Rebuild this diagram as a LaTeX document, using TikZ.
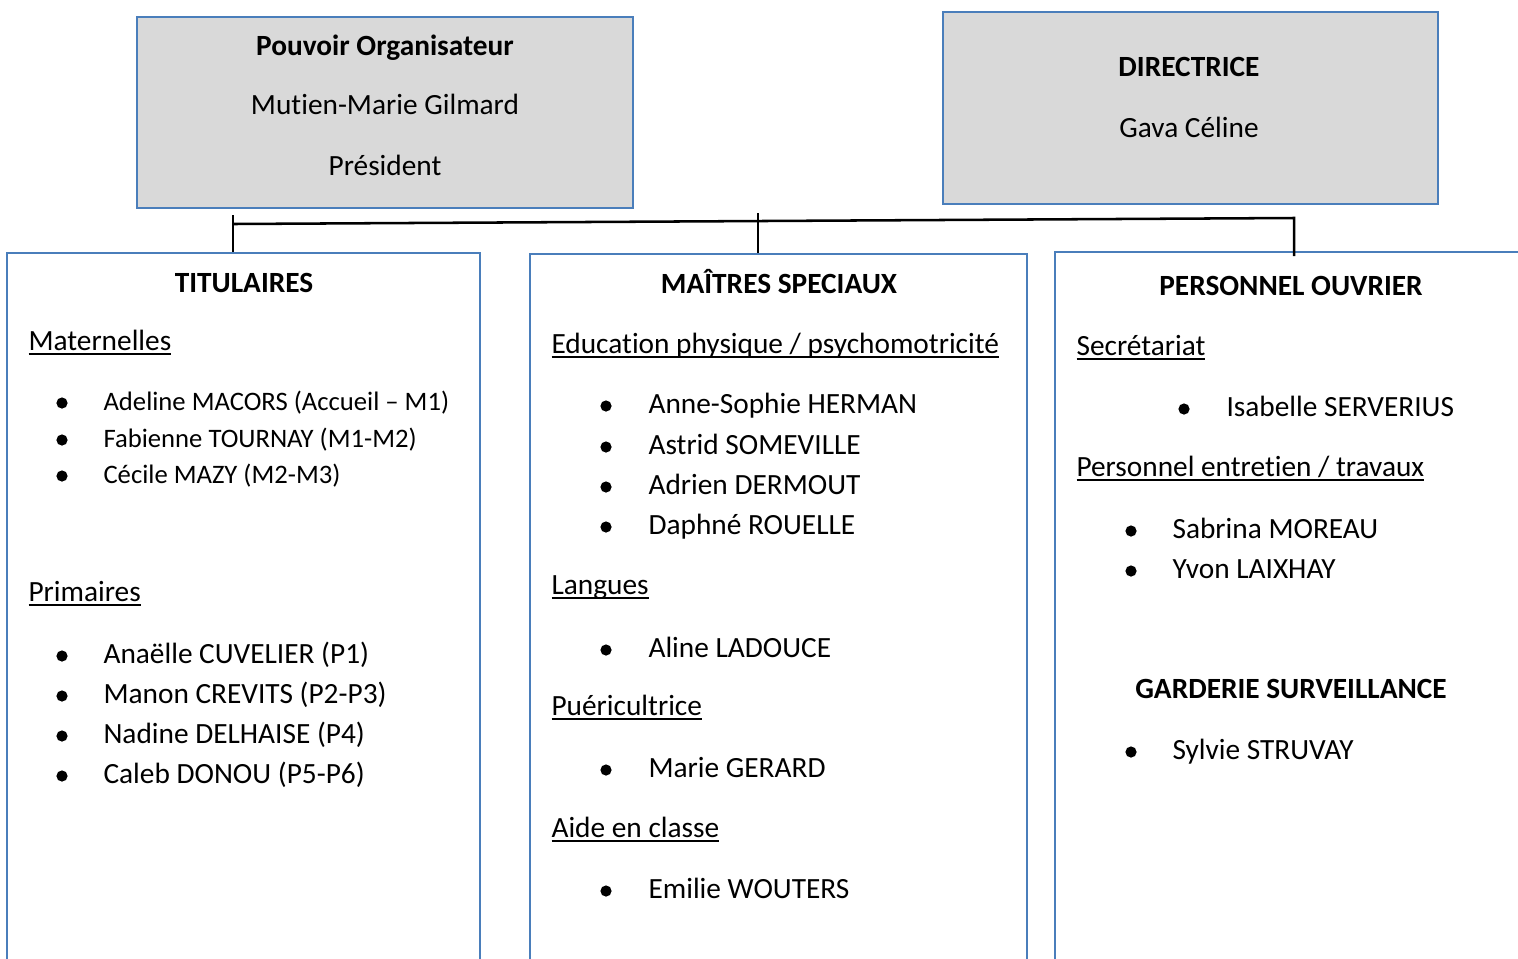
\documentclass[tikz,border=0pt]{standalone}
\usepackage{fontspec}
\setmainfont{Carlito}[Ligatures={NoCommon,NoRequired,NoContextual}, Contextuals={NoAlternate}]
\usetikzlibrary{fit}

\definecolor{boxblue}{HTML}{4A7EBB}
\definecolor{boxgray}{HTML}{D9D9D9}
\newcommand{\ulin}[1]{\setbox0\hbox{#1}\rlap{\rule[-1.9pt]{\wd0}{0.7pt}}\box0}
% break the t-i glyph join of Carlito
\newcommand{\nolig}{\kern0pt\relax}

\tikzset{
  headbox/.style={draw=boxblue, fill=boxgray, line width=1pt, inner sep=0pt},
  colbox/.style={draw=boxblue, line width=1pt, inner sep=0pt},
  link/.style={draw=black, line width=0.95pt},
  title/.style={inner sep=0pt, anchor=base, font=\fontsize{11pt}{13pt}\selectfont\bfseries},
  line/.style={inner sep=0pt, anchor=base, font=\fontsize{11pt}{13pt}\selectfont},
  item/.style={inner sep=0pt, anchor=base west, font=\fontsize{11pt}{13pt}\selectfont},
  smallitem/.style={inner sep=0pt, anchor=base west, font=\fontsize{10pt}{12pt}\selectfont},
  dot/.style={circle, fill=black, inner sep=0pt, minimum size=4.2pt}
}

\begin{document}
\begin{tikzpicture}[x=0.375pt,y=-0.375pt]
  \useasboundingbox (0,0) rectangle (1518,958);
  \clip (0,0) rectangle (1518,958);

  % top boxes
  \node[headbox, fit={(137,17) (633,208)}] (po) {};
  \node[title] (poname) at (385,55) {Pouvoir Organisateur};
  \node[line] (popers) at (385,114) {Mutien-Marie Gilmard};
  \node[line] (porole) at (385,175) {Président};

  \node[headbox, fit={(943,12) (1438,204)}] (dir) {};
  \node[title] (dirname) at (1189,76) {DIRECTRICE};
  \node[line] (dirpers) at (1189,137) {Gava Céline};

  % column boxes
  \node[colbox, fit={(7,253) (480,1000)}] (tit) {};
  \node[colbox, fit={(530,254) (1027,1000)}] (ms) {};
  \node[colbox, fit={(1055,252) (1560,1000)}] (ouv) {};

  % connectors
  \coordinate (busL) at (233,224);
  \coordinate (busR) at (1294,218);
  \coordinate (stubL) at (233,215);
  \coordinate (stubM) at (758,213);
  \draw[link] (busL) -- (busR) -- ([yshift=-2pt]ouv.north -| busR);
  \draw[link] (stubL) -- (tit.north -| stubL);
  \draw[link] (stubM) -- (ms.north -| stubM);

  % titulaires
  \node[title] (tithead) at (244,292) {TITULAIRES};
  \node[item] (mat) at (28,350) {\ulin{Maternelles}};
  \foreach \n/\y/\who in {1/410/{Adeline MACORS (Accueil – M1)},
                          2/447/{Fabienne TOURNAY (M1-M2)},
                          3/483/{Cécile MAZY (M2-M3)}}{
    \node[dot] (matb\n) at (62,\y-7) {};
    \node[smallitem] (mat\n) at (103,\y) {\who};
  }
  \node[item] (prim) at (28,601) {\ulin{Primaires}};
  \foreach \n/\y/\who in {1/663/{Anaëlle CUVELIER (P1)},
                          2/703/{Manon CREVITS (P2-P3)},
                          3/743/{Nadine DELHAISE (P4)},
                          4/783/{Caleb DONOU (P5-P6)}}{
    \node[dot] (primb\n) at (62,\y-7) {};
    \node[item] (prim\n) at (103,\y) {\who};
  }

  % maitres speciaux
  \node[title] (mshead) at (779,293) {MAÎTRES SPECIAUX};
  \node[item] (gym) at (551,353) {\ulin{Educat\nolig ion physique / psychomotricité}};
  \foreach \n/\y/\who in {1/413/{Anne-Sophie HERMAN},
                          2/454/{Astrid SOMEVILLE},
                          3/494/{Adrien DERMOUT},
                          4/534/{Daphné ROUELLE}}{
    \node[dot] (gymb\n) at (606,\y-7) {};
    \node[item] (gym\n) at (648,\y) {\who};
  }
  \node[item] (lang) at (551,594) {\ulin{Langues}};
  \node[dot] (langb1) at (606,650) {};
  \node[item] (lang1) at (648,657) {Aline LADOUCE};
  \node[item] (puer) at (551,715) {\ulin{Puéricultrice}};
  \node[dot] (puerb1) at (606,770) {};
  \node[item] (puer1) at (648,777) {Marie GERARD};
  \node[item] (aide) at (551,837) {\ulin{Aide en classe}};
  \node[dot] (aideb1) at (606,891) {};
  \node[item] (aide1) at (648,898) {Emilie WOUTERS};

  % personnel ouvrier
  \node[title] (ouvhead) at (1291,295) {PERSONNEL OUVRIER};
  \node[item] (secr) at (1076,355) {\ulin{Secrétariat}};
  \node[dot] (secrb1) at (1184,409) {};
  \node[item] (secr1) at (1226,416) {Isabelle SERVERIUS};
  \node[item] (entr) at (1076,476) {\ulin{Personnel entret\nolig ien / travaux}};
  \node[dot] (entrb1) at (1131,531) {};
  \node[item] (entr1) at (1172,538) {Sabrina MOREAU};
  \node[dot] (entrb2) at (1131,571) {};
  \node[item] (entr2) at (1172,578) {Yvon LAIXHAY};
  \node[title] (gardhead) at (1291,698) {GARDERIE SURVEILLANCE};
  \node[dot] (gardb1) at (1131,752) {};
  \node[item] (gard1) at (1172,759) {Sylvie STRUVAY};
\end{tikzpicture}
\end{document}
